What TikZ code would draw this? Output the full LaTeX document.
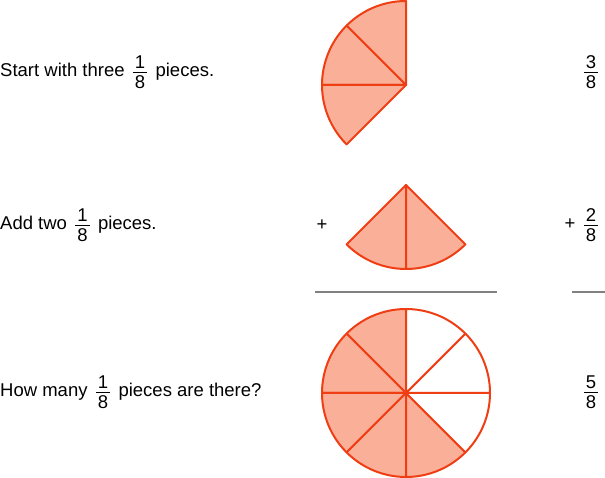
\documentclass[tikz,border=0pt]{standalone}
\usepackage{amsmath}
\usepackage{fontspec}
\setmainfont{Liberation Sans}
\usepackage{tikz}
\usetikzlibrary{positioning, calc}

\definecolor{piecefill}{RGB}{250,176,152}
\definecolor{pieceline}{RGB}{240,62,20}

% fraction with text digits
\newcommand{\frc}[2]{$\genfrac{}{}{0.7pt}{1}{\mbox{\kern2pt #1\kern2pt}\rule[-3pt]{0pt}{1pt}}{\mbox{\kern2pt #2\kern2pt}\rule{0pt}{15pt}}$}
\newcommand{\eighth}{\hspace{2pt}\frc{1}{8}\hspace{2pt}}

\begin{document}
\begin{tikzpicture}[
    x=1pt, y=1pt,
    piece/.style={fill=piecefill, draw=pieceline, line width=2pt, line join=round},
    blank/.style={piece, fill=white},
    txt/.style={font=\fontsize{18.5}{22}\selectfont, inner sep=0pt},
    rule/.style={draw=gray, line width=2pt}
]
\useasboundingbox (0,0) rectangle (605,478);

% centres of the pie pictures
\coordinate (topc) at (406,393);
\coordinate (midc) at (406,293);
\coordinate (botc) at (406,85);

% Row 1: three eighths
\foreach \a in {90,135,180}
    \filldraw[piece] (topc) -- ++(\a:84) arc[start angle=\a, delta angle=45, radius=84] -- cycle;

% Row 2: two eighths
\foreach \a in {225,270}
    \filldraw[piece] (midc) -- ++(\a:84) arc[start angle=\a, delta angle=45, radius=84] -- cycle;

% Row 3: the whole circle, five shaded
\foreach \a in {90,135,180,225,270}
    \filldraw[piece] (botc) -- ++(\a:84) arc[start angle=\a, delta angle=45, radius=84] -- cycle;
\foreach \a in {-45,0,45}
    \filldraw[blank] (botc) -- ++(\a:84) arc[start angle=\a, delta angle=45, radius=84] -- cycle;

% Sum lines
\draw[rule] (315,186) -- (497,186);
\draw[rule] (572,186) -- (605,186);

% Left texts
\node[txt, anchor=base west] (start) at (0,401.5) {Start with three \eighth{} pieces.};
\node[txt, anchor=base west] (add) at (0,248.5) {Add two \eighth{} pieces.};
\node[txt, anchor=base west] (ask) at (0,81.5) {How many \eighth{} pieces are there?};

% Plus signs
\node[txt, anchor=base] (plusL) at (322,247.5) {+};
\node[txt, anchor=base] (plusR) at (570,248.5) {+};

% Right fractions
\node[txt, anchor=base] (threeR) at (591,401.5) {\frc{3}{8}};
\node[txt, anchor=base] (twoR) at (591,248.5) {\frc{2}{8}};
\node[txt, anchor=base] (fiveR) at (591,81.5) {\frc{5}{8}};

\end{tikzpicture}
\end{document}
